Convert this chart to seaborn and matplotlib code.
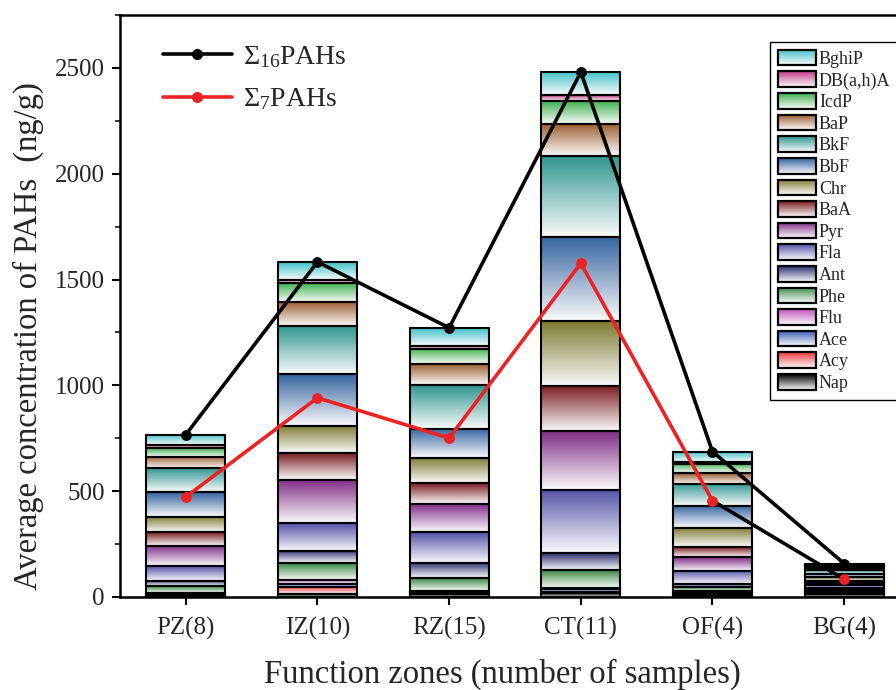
import numpy as np
import matplotlib
matplotlib.use("Agg")
import matplotlib.pyplot as plt
import seaborn as sns
from matplotlib.colors import LinearSegmentedColormap
from matplotlib.patches import Rectangle
from matplotlib.legend_handler import HandlerBase
from matplotlib.image import BboxImage
from matplotlib.transforms import Bbox, TransformedBbox
from matplotlib.lines import Line2D
from matplotlib.ticker import MultipleLocator

# ---------------- data ----------------
zones = ['PZ(8)', 'IZ(10)', 'RZ(15)', 'CT(11)', 'OF(4)', 'BG(4)']
compounds = ['Nap', 'Acy', 'Ace', 'Flu', 'Phe', 'Ant', 'Fla', 'Pyr',
             'BaA', 'Chr', 'BbF', 'BkF', 'BaP', 'IcdP', 'DB(a,h)A', 'BghiP']
Nap = [5, 14, 14, 17, 8, 12]
Acy = [4, 35, 4, 8, 6, 5]
Ace = [3, 11, 4, 11, 8, 5]
Flu = [5, 20, 8, 8, 8, 5]
Phe = [33, 80, 58, 84, 16, 12]
Ant = [27, 58, 73, 79, 14, 5]
Fla = [68, 131, 144, 298, 65, 12]
Pyr = [96, 205, 134, 279, 63, 10]
BaA = [64, 126, 99, 211, 46, 10]
Chr = [75, 130, 119, 307, 90, 18]
BbF = [117, 244, 138, 400, 107, 16]
BkF = [111, 226, 206, 380, 104, 16]
BaP = [55, 114, 101, 155, 50, 10]
IcdP = [41, 88, 71, 106, 43, 10]
DBahA = [12, 16, 15, 28, 11, 4]
BghiP = [51, 85, 84, 109, 48, 8]
sum16 = [767, 1583, 1272, 2480, 687, 158]
sum7 = [473, 941, 751, 1577, 455, 84]
series = [Nap, Acy, Ace, Flu, Phe, Ant, Fla, Pyr, BaA, Chr, BbF, BkF,
          BaP, IcdP, DBahA, BghiP]
colors = ['#000000', '#f03a3a', '#3455b0', '#c255b8', '#3a8a45', '#2c2f72',
          '#5552a8', '#7e2a86', '#7a1e22', '#7d7a30', '#3463a0', '#2f9690',
          '#9a5a2c', '#3fb150', '#c03a82', '#3ec1c8']

# ---------------- style ----------------
sns.set_style("ticks")
plt.rcParams['font.family'] = ['Liberation Serif', 'DejaVu Serif']
plt.rcParams['mathtext.fontset'] = 'custom'
plt.rcParams['mathtext.rm'] = 'Liberation Serif'
plt.rcParams['mathtext.it'] = 'Liberation Serif:italic'
plt.rcParams['mathtext.bf'] = 'Liberation Serif:bold'

fig = plt.figure(figsize=(8.96, 6.9), dpi=100)
ax = fig.add_axes([0.1339, 0.1348, 0.8817, 0.8435])


def grad_cmap(col):
    return LinearSegmentedColormap.from_list('g', ['#fbfbfb', col])


bottom = np.zeros(len(zones))
grad = np.linspace(0, 1, 256).reshape(-1, 1)
for name, vals, col in zip(compounds, series, colors):
    n0 = len(ax.patches)
    sns.barplot(x=zones, y=vals, bottom=bottom.copy(), order=zones,
                color=col, saturation=1, width=0.6, errorbar=None,
                edgecolor='black', linewidth=1.5, ax=ax)
    for p in ax.patches[n0:]:
        x0, y0 = p.get_x(), p.get_y()
        w, h = p.get_width(), p.get_height()
        im = ax.imshow(grad, cmap=grad_cmap(col), origin='lower',
                       extent=[x0, x0 + w, y0, y0 + h], aspect='auto',
                       interpolation='bilinear', zorder=0.9)
        im.set_clip_path(p)
        p.set_facecolor('none')
        p.set_zorder(1)
    bottom = bottom + np.array(vals)

xpos = np.arange(len(zones))
sns.lineplot(x=xpos, y=sum16, color='black', lw=2.6, marker='o',
             markersize=7, markeredgecolor='black', ax=ax, zorder=5)
sns.lineplot(x=xpos[4:], y=sum7[4:], color='black', lw=2.6, ax=ax, zorder=4)
sns.lineplot(x=xpos[:5], y=sum7[:5], color='#ee2222', lw=2.6, marker='o',
             markersize=7, markeredgecolor='#ee2222', ax=ax, zorder=5)
sns.scatterplot(x=xpos[5:], y=sum7[5:], color='#ee2222', s=50,
                edgecolor='#ee2222', ax=ax, zorder=6)

ax.set_xlim(-0.5, 5.5)
ax.set_ylim(0, 2750)
ax.set_aspect('auto')
ax.yaxis.set_major_locator(MultipleLocator(500))
ax.yaxis.set_minor_locator(MultipleLocator(250))
ax.set_xticks(xpos)
ax.set_xticklabels(zones)
ax.tick_params(axis='both', which='major', direction='out', length=6,
               width=1.5, labelsize=18, color='black')
ax.tick_params(axis='x', pad=8)
ax.tick_params(axis='y', pad=5)
ax.tick_params(axis='y', which='minor', direction='out', length=3.5,
               width=1.3)
for s in ['left', 'bottom', 'top']:
    ax.spines[s].set_linewidth(1.8)
    ax.spines[s].set_color('black')
ax.spines['right'].set_visible(False)
ax.set_xlabel('Function zones (number of samples)', fontsize=23.5,
              labelpad=14)
ax.set_ylabel('Average concentration of PAHs  (ng/g)', fontsize=23.5,
              labelpad=8)
ax.xaxis.label.set_x(0.4835)
ax.yaxis.label.set_y(0.448)

# ---------------- legends ----------------
line_handles = [
    Line2D([], [], color='black', lw=2.6, marker='o', markersize=7),
    Line2D([], [], color='#ee2222', lw=2.6, marker='o', markersize=7),
]
leg1 = ax.legend(line_handles,
                 [r'Σ$_{\mathrm{16}}$PAHs', r'Σ$_{\mathrm{7}}$PAHs'],
                 loc='upper left', bbox_to_anchor=(0.054, 0.95),
                 frameon=False, fontsize=20, handlelength=2.5,
                 handletextpad=0.4, labelspacing=0.6, borderpad=0,
                 borderaxespad=0)
ax.add_artist(leg1)


class GradHandler(HandlerBase):
    def create_artists(self, legend, orig_handle, xdescent, ydescent,
                       width, height, fontsize, trans):
        col = orig_handle.get_facecolor()
        bb = TransformedBbox(Bbox.from_bounds(-xdescent, -ydescent,
                                              width, height), trans)
        img = BboxImage(bb, cmap=grad_cmap(col), interpolation='bilinear',
                        origin='lower')
        img.set_data(np.linspace(0, 1, 64).reshape(-1, 1))
        rect = Rectangle((-xdescent, -ydescent), width, height,
                         facecolor='none', edgecolor='black', lw=1.6,
                         transform=trans)
        return [img, rect]


patch_handles = [Rectangle((0, 0), 1, 1, facecolor=c) for c in colors]
leg2 = ax.legend(patch_handles[::-1], compounds[::-1],
                 handler_map={Rectangle: GradHandler()},
                 loc='upper left', bbox_to_anchor=(0.823, 0.954),
                 fontsize=13, handlelength=2.1, handleheight=0.95,
                 handletextpad=0.15, labelspacing=0.2, borderpad=0.45,
                 borderaxespad=0, fancybox=False, frameon=True,
                 edgecolor='black', framealpha=1)
leg2.get_frame().set_linewidth(1.0)

fig.savefig('out.png', dpi=100)
